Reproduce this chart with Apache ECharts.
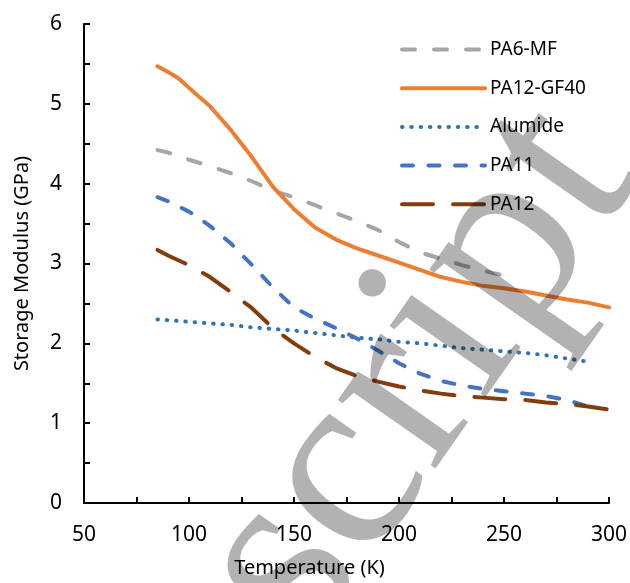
<!DOCTYPE html>
<html>
<head>
<meta charset="utf-8">
<script src="https://cdn.jsdelivr.net/npm/echarts@6/dist/echarts.min.js"></script>
<style>
    html, body { margin: 0; padding: 0; background: #fff; }
    #chart { width: 630px; height: 583px; }
</style>
</head>
<body>
<div id="chart"></div>
<script>
let chart = echarts.init(document.getElementById('chart'));

// data (temperature in K, storage modulus in GPa)
const seriesNames = ['PA6-MF', 'PA12-GF40', 'Alumide', 'PA11', 'PA12'];

const tempPA6MF = [85, 90, 100, 110, 120, 130, 140, 150, 160, 170, 180, 190, 200, 210, 220, 230, 240, 250, 255];
const valPA6MF = [4.42, 4.39, 4.30, 4.22, 4.13, 4.03, 3.91, 3.83, 3.73, 3.63, 3.53, 3.42, 3.27, 3.14, 3.06, 2.98, 2.91, 2.85, 2.82];

const tempGF40 = [85, 90, 95, 100, 110, 120, 130, 140, 150, 160, 170, 180, 190, 200, 210, 220, 230, 240, 250, 260, 270, 280, 290, 300];
const valGF40 = [5.47, 5.40, 5.32, 5.20, 4.97, 4.67, 4.33, 3.96, 3.68, 3.45, 3.30, 3.19, 3.10, 3.01, 2.92, 2.83, 2.77, 2.72, 2.69, 2.65, 2.60, 2.55, 2.51, 2.45];

const tempAlumide = [85, 90, 100, 110, 120, 130, 140, 150, 160, 170, 180, 190, 200, 210, 220, 230, 240, 250, 260, 270, 280, 290];
const valAlumide = [2.30, 2.29, 2.27, 2.25, 2.23, 2.20, 2.18, 2.16, 2.13, 2.10, 2.07, 2.05, 2.02, 2.00, 1.97, 1.94, 1.92, 1.90, 1.88, 1.85, 1.81, 1.77];

const tempPA11 = [85, 90, 100, 110, 120, 130, 140, 150, 160, 170, 180, 190, 200, 210, 220, 230, 240, 250, 260, 270, 280, 290, 295];
const valPA11 = [3.83, 3.78, 3.65, 3.47, 3.25, 2.98, 2.70, 2.45, 2.31, 2.19, 2.06, 1.91, 1.75, 1.62, 1.53, 1.47, 1.43, 1.40, 1.37, 1.34, 1.29, 1.21, 1.16];

const tempPA12 = [85, 90, 100, 110, 120, 130, 140, 150, 160, 170, 180, 190, 200, 210, 220, 230, 240, 250, 260, 270, 280, 290, 300];
const valPA12 = [3.17, 3.10, 2.98, 2.83, 2.64, 2.44, 2.19, 2.00, 1.83, 1.69, 1.59, 1.52, 1.46, 1.41, 1.37, 1.34, 1.32, 1.30, 1.29, 1.26, 1.24, 1.21, 1.17];

const xTickLabels = [50, 100, 150, 200, 250, 300];
const yTickLabels = [0, 1, 2, 3, 4, 5, 6];

function zip(xs, ys) {
    return xs.map((x, i) => [x, ys[i]]);
}

const font = '"Noto Sans", sans-serif';

function lineSeries(name, data, color, dash) {
    return {
        name: name,
        type: 'line',
        data: data,
        symbol: 'none',
        smooth: false,
        lineStyle: {color: color, width: 4, type: dash, cap: 'round', join: 'round'},
        itemStyle: {color: color}
    };
}

// watermark "script", letter by letter along a rotated baseline (Times-like advances in em)
const wmLetters = ['s', 'c', 'r', 'i', 'p', 't'];
const wmAdvance = [0, 0.389, 0.833, 1.166, 1.444, 1.944];
const wmSize = 260;
const wmAngle = 55 * Math.PI / 180;
const wmOrigin = [311, 652];

function watermark() {
    const d = [Math.cos(wmAngle), -Math.sin(wmAngle)];
    const u = [-Math.sin(wmAngle), -Math.cos(wmAngle)];
    const mid = 0.275 * wmSize;
    return wmLetters.map((ch, i) => ({
        type: 'text',
        x: wmOrigin[0] + wmAdvance[i] * wmSize * d[0] + mid * u[0],
        y: wmOrigin[1] + wmAdvance[i] * wmSize * d[1] + mid * u[1],
        rotation: wmAngle,
        z: 50,
        silent: true,
        style: {
            text: ch,
            fontSize: wmSize,
            fontFamily: 'Liberation Serif',
            fill: 'rgba(0,0,0,0.3)',
            align: 'left',
            verticalAlign: 'middle'
        }
    }));
}

let option = {
    animation: false,
    backgroundColor: '#fff',
    grid: {left: 84, right: 20, top: 24, bottom: 78},
    legend: {
        orient: 'vertical',
        left: 400,
        top: 40,
        padding: 0,
        itemWidth: 83,
        itemHeight: 14,
        itemGap: 19.7,
        data: seriesNames,
        lineStyle: {width: 4},
        itemStyle: {opacity: 0},
        textStyle: {fontFamily: font, fontSize: 19, color: '#000', lineHeight: 19}
    },
    xAxis: {
        type: 'value',
        min: 50,
        max: 300,
        interval: 25,
        name: 'Temperature (K)',
        nameLocation: 'middle',
        nameGap: 55,
        nameTextStyle: {fontFamily: font, fontSize: 20, color: '#000', padding: [0, 74, 0, 0]},
        axisLine: {lineStyle: {color: '#000', width: 2}},
        axisTick: {inside: true, length: 6, lineStyle: {color: '#000', width: 2}},
        axisLabel: {
            fontFamily: font, fontSize: 21, color: '#000', margin: 22,
            formatter: v => xTickLabels.includes(v) ? String(v) : ''
        },
        splitLine: {show: false}
    },
    yAxis: {
        type: 'value',
        min: 0,
        max: 6,
        interval: 0.5,
        name: 'Storage Modulus (GPa)',
        nameLocation: 'middle',
        nameGap: 52,
        nameTextStyle: {fontFamily: font, fontSize: 20, color: '#000'},
        axisLine: {show: true, lineStyle: {color: '#000', width: 2}},
        axisTick: {show: true, inside: true, length: 6, lineStyle: {color: '#000', width: 2}},
        axisLabel: {
            fontFamily: font, fontSize: 21, color: '#000', margin: 22,
            formatter: v => yTickLabels.includes(v) ? String(v) : ''
        },
        splitLine: {show: false}
    },
    series: [
        lineSeries('PA6-MF', zip(tempPA6MF, valPA6MF), '#A5A5A5', [13, 19]),
        lineSeries('PA12-GF40', zip(tempGF40, valGF40), '#ED7D31', 'solid'),
        lineSeries('Alumide', zip(tempAlumide, valAlumide), '#2E75B6', [0.5, 8.8]),
        lineSeries('PA11', zip(tempPA11, valPA11), '#4472C4', [11, 15.5]),
        lineSeries('PA12', zip(tempPA12, valPA12), '#843C0C', [31, 20])
    ],
    graphic: watermark()
};

chart.setOption(option);
</script>
</body>
</html>
